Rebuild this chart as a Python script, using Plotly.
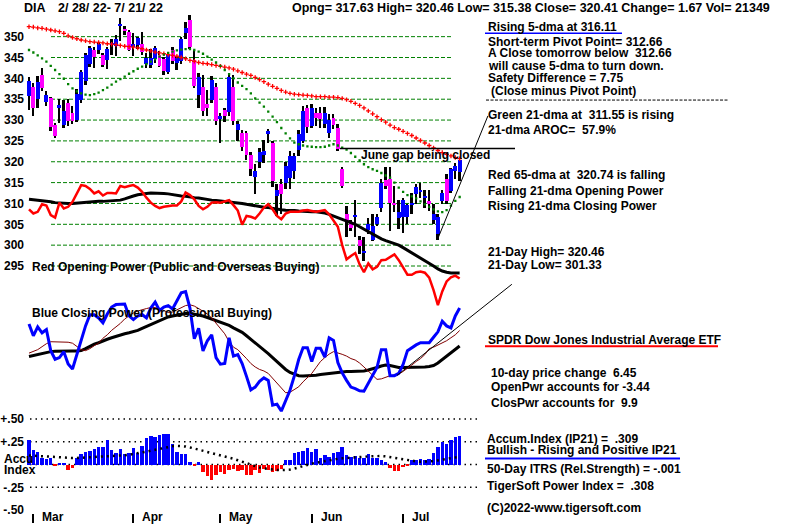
"""
plot.py - TigerSoft style chart for DIA, 2/28/22 - 7/21/22
price candles + moving averages, opening / closing power and accumulation index
"""
import pandas as pd
import plotly.graph_objects as go

W, H = 800, 526
FONT = 'Liberation Sans, Arial, sans-serif'

# trading days on the chart (weekdays less the market holidays)
HOLIDAYS = ['2022-04-15', '2022-05-30', '2022-06-20', '2022-07-04']
DATES = [d for d in pd.bdate_range('2022-02-28', '2022-07-21')
         if d.strftime('%Y-%m-%d') not in HOLIDAYS]

# daily candles
OPEN = [335.8, 338.0, 335.1, 340.8, 334.4, 335.2, 328.9, 333.0, 328.9, 334.0,
        331.8, 330.0, 334.8, 339.4, 343.5, 346.7, 346.9, 345.6, 344.5, 348.1,
        347.7, 352.5, 351.6, 351.2, 347.6, 347.9, 348.3, 343.5, 343.3, 344.7,
        345.7, 344.7, 341.5, 346.7, 343.8, 344.1, 351.0, 354.0, 344.4, 336.0,
        338.0, 333.9, 334.8, 338.0, 330.3, 332.5, 331.9, 338.0, 327.7, 327.0,
        326.8, 321.7, 316.3, 320.0, 321.6, 326.7, 324.4, 311.8, 314.8, 315.0,
        316.2, 317.8, 322.9, 325.1, 332.8, 328.7, 331.7, 331.7, 329.0, 326.8,
        330.5, 328.1, 318.4, 307.5, 305.5, 306.7, 301.3, 298.1, 303.7, 301.3,
        305.2, 309.0, 315.6, 316.0, 310.2, 306.5, 306.7, 306.7, 309.8, 312.2,
        312.9, 311.4, 310.6, 306.0, 302.7, 310.6, 315.8, 313.0, 317.8, 317.63]
HIGH = [340.3, 339.0, 340.6, 342.5, 337.0, 335.6, 329.4, 335.0, 334.8, 335.0,
        333.5, 337.5, 342.0, 346.2, 347.8, 347.5, 348.6, 346.2, 347.6, 349.5,
        350.5, 354.5, 352.6, 351.5, 351.0, 350.0, 351.1, 346.0, 347.0, 347.8,
        346.5, 345.2, 346.3, 347.5, 345.5, 350.0, 353.5, 355.2, 346.8, 341.2,
        340.8, 337.2, 340.5, 338.8, 331.7, 333.0, 341.4, 340.8, 329.7, 327.7,
        327.5, 322.3, 319.4, 323.2, 325.3, 327.8, 325.0, 314.6, 316.0, 320.0,
        322.5, 322.0, 327.7, 333.5, 333.6, 333.8, 333.0, 333.2, 333.2, 331.5,
        331.5, 329.0, 318.8, 309.4, 306.0, 310.8, 302.3, 301.9, 306.5, 307.6,
        307.5, 316.0, 318.7, 318.7, 314.2, 310.8, 311.4, 310.0, 312.6, 314.6,
        315.0, 313.3, 313.3, 309.8, 307.5, 313.2, 317.0, 318.6, 319.8, 320.46]
LOW = [332.5, 331.1, 332.8, 337.0, 333.3, 327.5, 325.8, 329.4, 328.0, 328.5,
       329.0, 329.5, 334.2, 338.5, 342.8, 342.5, 345.8, 342.8, 342.3, 345.6,
       345.5, 349.0, 350.4, 346.5, 345.5, 347.0, 345.7, 342.5, 342.5, 343.8,
       342.8, 340.8, 341.0, 343.5, 342.0, 343.5, 349.5, 347.0, 337.8, 333.0,
       331.0, 330.9, 334.0, 328.9, 324.5, 329.5, 330.9, 328.9, 324.9, 322.5,
       320.5, 316.6, 312.2, 318.6, 319.8, 324.5, 314.0, 307.1, 307.5, 313.5,
       313.5, 316.0, 321.5, 324.5, 327.0, 328.0, 328.5, 328.1, 328.0, 325.8,
       327.8, 322.5, 313.8, 301.9, 303.5, 301.9, 297.9, 296.3, 302.8, 301.1,
       304.5, 308.0, 313.5, 303.5, 308.0, 303.9, 303.0, 305.0, 307.4, 309.8,
       311.4, 309.0, 308.1, 305.2, 301.3, 309.8, 309.8, 312.5, 316.0, 315.38]
CLOSE = [339.4, 333.0, 339.2, 337.8, 336.0, 328.3, 326.3, 333.6, 332.2, 329.9,
         329.8, 336.2, 341.5, 345.6, 347.2, 345.1, 348.2, 343.3, 347.1, 348.5,
         349.5, 353.0, 351.4, 346.8, 348.3, 349.7, 346.3, 345.0, 344.9, 347.2,
         343.0, 341.9, 345.7, 344.3, 344.8, 349.4, 352.0, 347.5, 338.2, 340.4,
         332.1, 333.0, 339.6, 329.7, 330.9, 331.1, 340.4, 329.7, 329.1, 323.5,
         321.7, 318.2, 317.8, 322.3, 322.7, 327.3, 315.4, 313.3, 312.2, 319.0,
         321.3, 321.3, 326.7, 332.3, 328.3, 333.0, 330.6, 330.2, 331.8, 330.1,
         328.9, 323.0, 314.3, 305.5, 304.1, 307.3, 299.8, 298.7, 305.2, 304.7,
         306.8, 315.0, 314.2, 310.2, 309.8, 307.9, 310.8, 309.7, 310.2, 314.0,
         313.3, 311.8, 309.8, 307.6, 306.7, 312.6, 310.6, 318.2, 319.0, 320.41]

# red 65-dma and green 21-dma of the close
MA65 = [352.4, 352.3, 352.1, 352.0, 351.8, 351.6, 351.4, 351.2, 350.8, 350.2,
        349.8, 349.5, 349.2, 349.0, 348.8, 348.7, 348.6, 348.5, 348.3, 348.2,
        348.1, 347.9, 347.7, 347.6, 347.5, 347.3, 347.1, 346.8, 346.6, 346.3,
        346.1, 345.9, 345.7, 345.5, 345.3, 345.0, 344.7, 344.3, 344.1, 343.8,
        343.6, 343.5, 343.3, 343.1, 342.9, 342.7, 342.5, 342.2, 341.8, 341.4,
        341.0, 340.7, 340.2, 339.7, 339.2, 338.6, 338.1, 337.6, 337.1, 336.7,
        336.4, 336.2, 336.1, 336.0, 335.9, 335.8, 335.6, 335.6, 335.6, 335.5,
        335.5, 335.4, 335.2, 334.9, 334.5, 334.0, 333.5, 332.9, 332.2, 331.5,
        330.8, 330.1, 329.5, 328.8, 328.2, 327.8, 327.3, 326.8, 326.3, 325.7,
        325.1, 324.5, 323.9, 323.3, 322.7, 322.2, 321.8, 321.4, 321.0, 320.74]
MA21 = [346.8, 346.2, 345.5, 344.8, 344.0, 343.0, 342.0, 341.0, 339.9, 338.6,
        337.6, 336.9, 336.4, 336.1, 336.0, 336.2, 336.6, 337.2, 337.8, 338.5,
        339.2, 339.8, 340.4, 341.1, 341.7, 342.3, 342.8, 343.4, 344.0, 344.6,
        345.2, 345.7, 346.1, 346.4, 346.7, 346.9, 347.0, 347.0, 346.8, 346.4,
        345.9, 345.2, 344.5, 343.8, 343.0, 342.0, 341.0, 340.0, 339.0, 338.2,
        337.4, 336.4, 335.2, 334.2, 333.2, 332.0, 330.8, 329.5, 328.1, 326.8,
        325.6, 324.6, 324.2, 323.9, 323.7, 323.6, 323.5, 323.5, 323.6, 323.9,
        324.2, 323.9, 323.4, 322.9, 322.1, 321.2, 320.3, 319.4, 318.7, 318.2,
        317.8, 317.3, 316.7, 316.2, 315.0, 313.8, 312.8, 312.0, 311.7, 311.2,
        310.5, 309.8, 309.2, 308.6, 308.1, 307.9, 308.4, 309.5, 310.6, 311.55]

# red opening power and its black average (drawn on the price scale)
OPEN_PWR = [308.6, 307.6, 308.0, 309.8, 309.5, 307.2, 306.6, 310.2, 308.8, 309.2,
            310.4, 312.6, 314.4, 314.2, 313.5, 312.4, 312.9, 311.9, 312.5, 312.5,
            312.4, 314.2, 313.9, 314.2, 314.4, 313.8, 312.8, 311.4, 310.2, 309.4,
            308.9, 309.2, 309.4, 309.5, 309.5, 310.5, 312.6, 312.0, 311.0, 309.4,
            308.6, 309.2, 310.2, 310.3, 310.2, 310.5, 310.8, 309.6, 308.3, 304.9,
            307.0, 306.8, 306.4, 307.6, 309.0, 309.8, 308.6, 307.0, 306.2, 307.6,
            308.0, 308.0, 308.0, 308.3, 308.4, 308.2, 308.0, 308.2, 308.4, 307.4,
            306.0, 304.4, 300.0, 296.6, 297.4, 298.1, 295.4, 293.5, 295.6, 294.2,
            294.8, 296.4, 296.5, 297.2, 297.8, 296.4, 294.6, 292.9, 292.9, 293.5,
            293.7, 293.4, 292.2, 289.2, 285.6, 288.9, 291.3, 292.3, 292.7, 292.0]
OPEN_PWR_MA = [311.0, 310.9, 310.8, 310.6, 310.5, 310.4, 310.2, 310.1, 310.0, 310.0,
               310.0, 310.1, 310.1, 310.2, 310.3, 310.4, 310.5, 310.5, 310.6, 310.7,
               310.7, 310.8, 311.1, 311.5, 311.8, 312.1, 312.3, 312.4, 312.5, 312.5,
               312.5, 312.4, 312.3, 312.1, 312.0, 311.8, 311.7, 311.5, 311.4, 311.3,
               311.1, 311.0, 310.8, 310.7, 310.6, 310.4, 310.3, 310.2, 310.1, 310.0,
               309.8, 309.6, 309.4, 309.2, 309.1, 309.0, 308.8, 308.7, 308.5, 308.4,
               308.4, 308.3, 308.2, 308.1, 308.0, 308.0, 308.0, 307.9, 307.7, 307.4,
               307.0, 306.6, 306.3, 305.9, 305.5, 305.0, 304.4, 303.8, 303.2, 302.7,
               302.1, 301.5, 301.1, 300.7, 300.3, 300.0, 299.4, 298.8, 298.2, 297.6,
               297.0, 296.3, 295.6, 295.0, 294.3, 293.8, 293.5, 293.3, 293.3, 293.3]

# blue closing power (arbitrary units), its black average and thin red 21-dma
CLOSE_PWR = [94, 82, 91, 85, 88.3, 67, 58.3, 60, 66, 53.5,
             48.5, 63, 80, 92, 103.3, 103.3, 100, 95, 104, 111,
             113.5, 113.8, 114, 102, 98.3, 102, 103.5, 100, 110, 116,
             107.5, 111, 112.5, 109, 118, 125.5, 126.7, 110, 79, 89.5,
             66.7, 77, 83, 60, 53.3, 54, 80, 61.5, 63, 54,
             41, 27.3, 30.2, 36, 39.5, 37, 12, 13, 6, 16,
             27, 41.5, 58, 70, 70, 56, 69.3, 69.3, 60.5, 80,
             77.3, 55, 44.5, 37, 30.2, 28.7, 26.5, 26, 34, 41.5,
             50, 68, 68, 41.7, 41.7, 44, 53, 67, 70, 72.8,
             75, 75, 75, 80.5, 86, 96.7, 92, 90, 102, 110]
CLOSE_PWR_MA = [61, 62, 63, 64.5, 65.5, 66, 66.5, 66.7, 66.7, 66.7,
                66.7, 66.7, 67, 69, 71.5, 73.5, 75, 77, 78.5, 80,
                81.5, 83, 84, 85, 86, 87.5, 89.5, 91.5, 93.5, 95.5,
                97.5, 99.5, 101, 102, 103, 104, 104.5, 104.7, 104, 103,
                102, 100.5, 99, 97.5, 96, 94.5, 92.5, 90, 87.5, 85.5,
                82, 78.5, 75, 71.5, 68, 64, 60, 56, 52, 48,
                45, 43, 41.7, 41.5, 41.5, 41.7, 42.2, 43, 43.5, 44.5,
                45.2, 45.7, 46, 46, 46, 46, 46, 46.5, 47.5, 48.5,
                50, 51.5, 52.5, 52, 51, 50, 50, 50, 50, 50,
                50, 50.5, 51, 52, 54.5, 58, 61.5, 65, 68.5, 71.7]
CLOSE_PWR_21 = [64.5, 66, 68, 71, 74, 76, 76, 76, 76, 75.5,
                74.5, 71.5, 68, 67, 69, 72, 74.5, 79.5, 83, 87.5,
                91, 94.5, 99, 102, 105, 107, 108.5, 109.5, 110.5, 110.5,
                109.5, 107.5, 105.5, 106, 108, 110, 112.5, 113.3, 112, 109.5,
                107, 104, 100, 95, 90, 84, 76, 70.5, 68, 64,
                59, 54, 50.5, 48, 46.5, 44, 39, 34, 29, 24.5,
                25, 28, 30.5, 35.5, 39.5, 44, 50, 56, 60, 63.5,
                66, 65, 63.3, 61.5, 59, 57.5, 54.5, 50.5, 46, 42,
                38, 38.5, 40.5, 41.7, 42.5, 43.3, 46, 49, 52.5, 56,
                59, 63, 69, 70.5, 72.5, 74.5, 77, 80, 83, 87.3]

# accumulation index (IP21) and its dotted moving average
ACCUM = [0.268, 0.158, 0.132, 0.066, 0.059, 0.066, -0.012, 0.022, 0.022, -0.062,
         -0.037, 0.066, 0.11, 0.132, 0.147, 0.169, 0.19, 0.195, 0.265, 0.158,
         0.121, 0.169, 0.11, 0.121, 0.176, 0.121, 0.206, 0.294, 0.316, 0.305,
         0.324, 0.338, 0.331, 0.221, 0.132, 0.11, 0.11, 0.029, -0.01, 0.03,
         -0.081, -0.129, -0.173, -0.11, -0.081, -0.099, -0.062, -0.051, -0.074, -0.062,
         -0.118, -0.118, -0.062, -0.088, -0.044, -0.062, -0.081, -0.074, -0.044, 0.048,
         0.048, 0.121, 0.14, 0.147, 0.184, 0.132, 0.169, 0.066, 0.103, 0.085,
         0.121, 0.132, 0.195, 0.103, 0.085, 0.096, 0.066, 0.074, 0.11, 0.074,
         0.074, 0.048, 0.03, -0.037, -0.074, -0.074, -0.026, -0.015, 0.048, 0.048,
         0.059, 0.048, 0.059, 0.121, 0.195, 0.25, 0.221, 0.268, 0.305, 0.31]
ACCUM_MA = [0.10, 0.097, 0.094, 0.09, 0.086, 0.082, 0.078, 0.075, 0.073, 0.072,
            0.072, 0.072, 0.074, 0.077, 0.081, 0.085, 0.088, 0.091, 0.094, 0.096,
            0.098, 0.10, 0.102, 0.108, 0.115, 0.124, 0.133, 0.142, 0.152, 0.163,
            0.175, 0.186, 0.195, 0.201, 0.205, 0.204, 0.198, 0.188, 0.176, 0.163,
            0.15, 0.138, 0.126, 0.115, 0.105, 0.095, 0.08, 0.064, 0.047, 0.03,
            0.012, -0.005, -0.02, -0.033, -0.043, -0.051, -0.057, -0.06, -0.061, -0.06,
            -0.055, -0.045, -0.03, -0.015, -0.002, 0.01, 0.02, 0.03, 0.04, 0.05,
            0.057, 0.063, 0.068, 0.073, 0.077, 0.08, 0.083, 0.086, 0.089, 0.092,
            0.094, 0.094, 0.09, 0.082, 0.072, 0.062, 0.053, 0.045, 0.039, 0.035,
            0.032, 0.031, 0.033, 0.038, 0.045, 0.052, 0.06, 0.068, 0.076, 0.085]

PRICE_TICKS = [350, 345, 340, 335, 330, 325, 320, 315, 310, 305, 300, 295]
ACCUM_TICKS = [0.5, 0.25, -0.25, -0.5]
ACCUM_TICKTEXT = ['+.50', '+.25', '-.25', '-.50']

# trend lines / gap level (day index, value)
GAP_LEVEL = 323.2
PRICE_TREND = [(94.0, 301.6), (105.5, 331.0)]
CP_TREND = [(84.6, 42), (111.0, 134)]

RIGHT_TEXT = [
    (486, 26, 'Rising 5-dma at 316.11'),
    (486, 41, 'Short-term Pivot Point= 312.66'),
    (486, 53, 'A Close tomorrow below\u00a0 312.66'),
    (486, 65.5, 'will cause 5-dma to turn down.'),
    (486, 78, 'Safety Difference = 7.75'),
    (489, 90.5, '(Close minus Pivot Point)'),
    (486, 115, 'Green 21-dma at\u00a0 311.55 is rising'),
    (486, 130, '21-dma AROC=\u00a0 57.9%'),
    (486, 176, 'Red 65-dma at\u00a0 320.74 is falling'),
    (486, 192, 'Falling 21-dma Opening Power'),
    (486, 207, 'Rising 21-dma Closing Power'),
    (486, 253, '21-Day High= 320.46'),
    (486, 267, '21-Day Low= 301.33'),
    (486, 342, 'SPDR Dow Jones Industrial Average ETF'),
    (489, 376, '10-day price change\u00a0 6.45'),
    (489, 390, 'OpenPwr accounts for -3.44'),
    (489, 406, 'ClosPwr accounts for\u00a0 9.9'),
    (485, 442, 'Accum.Index (IP21) =\u00a0 .309'),
    (485, 453, 'Bullish - Rising and Positive IP21'),
    (485, 472, '50-Day ITRS (Rel.Strength) = -.001'),
    (485, 490, 'TigerSoft Power Index =\u00a0 .308'),
    (485, 512, '(C)2022-www.tigersoft.com'),
]

# pixel layout of the three panels
X0_PX, DAY_PX = 29, 4.35          # x pixel of first day, pixels per day
X_DOM_PX = (25, 530)
P_REF, P_REF_PX, PT_PX = 350, 36, 4.21
PRICE_DOM_PX = (8, 330)
CP_DOM_PX = (270, 420)
ACC_ZERO_PX, ACC_UNIT_PX = 468, 92
ACC_DOM_PX = (416, 517)


def px_x(p):
    return p / W


def px_y(p):
    return 1 - p / H


def text_note(x, y, text, size=12, anchor='left'):
    """annotation placed in pixel coordinates"""
    return dict(xref='paper', yref='paper', x=px_x(x), y=px_y(y), text='<b>' + text + '</b>',
                showarrow=False, xanchor=anchor, yanchor='middle',
                font=dict(family=FONT, size=size, color='black'))


def pline(x0, y0, x1, y1, color='black', width=1, dash='solid'):
    """line in pixel coordinates"""
    return dict(type='line', xref='paper', yref='paper', x0=px_x(x0), y0=px_y(y0),
                x1=px_x(x1), y1=px_y(y1), line=dict(color=color, width=width, dash=dash))


def day_from_px(p):
    return (p - X0_PX) / DAY_PX


idx = list(range(len(DATES)))

fig = go.Figure()

# candle wicks and bodies
fig.add_trace(go.Bar(x=idx, y=[h - l for h, l in zip(HIGH, LOW)], base=LOW, width=0.45,
                     marker=dict(color='black', line=dict(width=0)), yaxis='y'))
body_base = [min(o, c) for o, c in zip(OPEN, CLOSE)]
body_h = [max(abs(c - o), 0.3) for o, c in zip(OPEN, CLOSE)]
body_col = ['#0000FF' if c >= o else '#FF00FF' for o, c in zip(OPEN, CLOSE)]
fig.add_trace(go.Bar(x=idx, y=body_h, base=body_base, width=0.9,
                     marker=dict(color=body_col, line=dict(width=0)), yaxis='y'))

# moving averages of price
fig.add_trace(go.Scatter(x=idx, y=MA65, mode='markers', yaxis='y',
                         marker=dict(symbol='cross-thin', size=3.2, color='#FF0000',
                                     line=dict(width=1.3, color='#FF0000'))))
fig.add_trace(go.Scatter(x=idx, y=MA21, mode='markers', yaxis='y',
                         marker=dict(symbol='square', size=2.3, color='#008000', line=dict(width=0))))

# opening power
fig.add_trace(go.Scatter(x=idx, y=OPEN_PWR_MA, mode='lines', yaxis='y',
                         line=dict(color='black', width=3)))
fig.add_trace(go.Scatter(x=idx, y=OPEN_PWR, mode='lines', yaxis='y',
                         line=dict(color='#FF0000', width=2.5)))

# closing power
fig.add_trace(go.Scatter(x=idx, y=CLOSE_PWR_MA, mode='lines', yaxis='y2',
                         line=dict(color='black', width=3)))
fig.add_trace(go.Scatter(x=idx, y=CLOSE_PWR_21, mode='lines', yaxis='y2',
                         line=dict(color='#800000', width=1)))
fig.add_trace(go.Scatter(x=idx, y=CLOSE_PWR, mode='lines', yaxis='y2',
                         line=dict(color='#0000FF', width=3)))

# accumulation index
fig.add_trace(go.Bar(x=idx, y=ACCUM, width=0.8, yaxis='y3',
                     marker=dict(color=['#0000FF' if v >= 0 else '#FF0000' for v in ACCUM],
                                 line=dict(width=0))))
fig.add_trace(go.Scatter(x=idx, y=ACCUM_MA, mode='lines', yaxis='y3',
                         line=dict(color='black', width=2.5, dash='2px,4px')))

shapes = []
# green price grid
for lv in PRICE_TICKS:
    shapes.append(dict(type='line', xref='x', yref='y', x0=day_from_px(51), x1=day_from_px(453),
                       y0=lv, y1=lv, layer='below', line=dict(color='#008000', width=1, dash='4px,2px')))
# dotted accumulation grid
for lv in [0.5, 0.25, 0, -0.25]:
    shapes.append(dict(type='line', xref='x', yref='y3', x0=day_from_px(30), x1=day_from_px(478),
                       y0=lv, y1=lv, layer='below', line=dict(color='black', width=1.5, dash='1.5px,4px')))
# june gap and trend lines
shapes.append(dict(type='line', xref='x', yref='y', x0=day_from_px(340), x1=day_from_px(515),
                   y0=GAP_LEVEL, y1=GAP_LEVEL, line=dict(color='black', width=1.5)))
shapes.append(dict(type='line', xref='x', yref='y', x0=PRICE_TREND[0][0], y0=PRICE_TREND[0][1],
                   x1=PRICE_TREND[1][0], y1=PRICE_TREND[1][1], line=dict(color='black', width=1)))
shapes.append(dict(type='line', xref='x', yref='y2', x0=CP_TREND[0][0], y0=CP_TREND[0][1],
                   x1=CP_TREND[1][0], y1=CP_TREND[1][1], line=dict(color='black', width=1)))
# underlines and separator in the text panel
shapes.append(pline(485, 32.5, 622, 32.5, color='#0000FF', width=1.5))
shapes.append(pline(486, 100, 728, 100, width=1, dash='3px,1.5px'))
shapes.append(pline(485, 348.5, 718, 348.5, color='#FF0000', width=2))
shapes.append(pline(485, 462, 680, 462, color='#0000FF', width=2))

annotations = [
    text_note(22, 7, 'DIA', size=12.5),
    text_note(56, 7, '2/ 28/ 22- 7/ 21/ 22', size=12.5),
    text_note(290, 7, 'Opng= 317.63 High= 320.46 Low= 315.38 Close= 320.41 Change= 1.67 Vol= 21349',
              size=12.5),
    text_note(30, 269, 'Red Opening Power (Public and Overseas Buying)'),
    text_note(30, 315, 'Blue Closing Power (Professional Buying)'),
    text_note(2, 462, 'Accu'),
    text_note(2, 474, 'Index'),
    text_note(359, 155, 'June gap being closed'),
]
for x, y, t in RIGHT_TEXT:
    annotations.append(text_note(x, y, t))

# month labels beside the ticks
month_starts = [i for i in range(1, len(DATES)) if DATES[i].month != DATES[i - 1].month]
for i in month_starts:
    annotations.append(dict(xref='x', yref='paper', x=i, y=px_y(521), xshift=7,
                            text='<b>' + DATES[i].strftime('%b') + '</b>', showarrow=False,
                            xanchor='left', yanchor='middle',
                            font=dict(family=FONT, size=12, color='black')))

price_top = P_REF + (P_REF_PX - PRICE_DOM_PX[0]) / PT_PX
price_bot = P_REF - (PRICE_DOM_PX[1] - P_REF_PX) / PT_PX
acc_top = (ACC_ZERO_PX - ACC_DOM_PX[0]) / ACC_UNIT_PX
acc_bot = -(ACC_DOM_PX[1] - ACC_ZERO_PX) / ACC_UNIT_PX
tickfont = dict(family=FONT, size=12, color='black', weight='bold')

fig.update_layout(
    width=W, height=H, autosize=False,
    margin=dict(l=0, r=0, t=0, b=0, pad=0),
    paper_bgcolor='white', plot_bgcolor='rgba(0,0,0,0)',
    showlegend=False, barmode='overlay', bargap=0,
    shapes=shapes, annotations=annotations,
    xaxis=dict(domain=[px_x(X_DOM_PX[0]), px_x(X_DOM_PX[1])],
               range=[day_from_px(X_DOM_PX[0]), day_from_px(X_DOM_PX[1])],
               anchor='y3', showgrid=False, zeroline=False, showline=False,
               tickvals=month_starts, ticks='outside', ticklen=9, tickwidth=1.5,
               tickcolor='black', showticklabels=False),
    yaxis=dict(domain=[px_y(PRICE_DOM_PX[1]), px_y(PRICE_DOM_PX[0])],
               range=[price_bot, price_top], anchor='x',
               showgrid=False, zeroline=False, showline=False,
               tickvals=PRICE_TICKS, ticktext=[str(v) for v in PRICE_TICKS],
               tickfont=tickfont, ticks=''),
    yaxis2=dict(domain=[px_y(CP_DOM_PX[1]), px_y(CP_DOM_PX[0])],
                range=[0, CP_DOM_PX[1] - CP_DOM_PX[0]], anchor='x',
                showgrid=False, zeroline=False, showline=False, showticklabels=False),
    yaxis3=dict(domain=[px_y(ACC_DOM_PX[1]), px_y(ACC_DOM_PX[0])],
                range=[acc_bot, acc_top], anchor='x',
                showgrid=False, zeroline=False, showline=False,
                tickvals=ACCUM_TICKS, ticktext=ACCUM_TICKTEXT,
                tickfont=tickfont, ticks=''),
)

# page body margin would push the chart 8px off; drop it
fig.write_html("out.html", config={'displayModeBar': False},
               post_script="document.body.style.margin='0px';document.body.style.overflow='hidden';")
